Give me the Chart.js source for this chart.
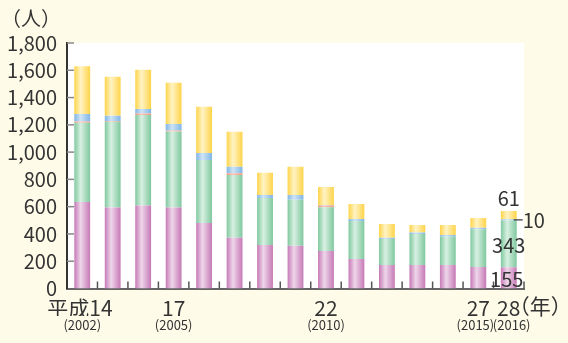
<!DOCTYPE html>
<html>
<head>
<meta charset="utf-8">
<script src="https://cdn.jsdelivr.net/npm/chart.js@4/dist/chart.umd.min.js"></script>
<style>
  html, body { margin: 0; padding: 0; background: #fefbe8; }
  #wrap { width: 568px; height: 343px; }
</style>
</head>
<body>
<div id="wrap"><canvas id="c" width="568" height="343"></canvas></div>
<script>
// Years 2002–2016 (Heisei 14–28)
const categories = ['2002','2003','2004','2005','2006','2007','2008','2009','2010','2011','2012','2013','2014','2015','2016'];
const eraTickLabels = ['平成14 ','','','17','','','','','22','','','','','27','28'];
const yearTickLabels = ['(2002)','','','(2005)','','','','','(2010)','','','','','(2015)  ','  (2016)'];

// Stacked series, bottom to top
const seriesPink   = [635, 593, 608, 593, 481, 373, 319, 314, 275, 216, 172, 172, 172, 158, 155];
const seriesGreen  = [580, 629, 665, 558, 462, 460, 345, 336, 321, 279, 191, 228, 208, 276, 343];
const seriesOrange = [10, 7, 10, 7, 0, 12, 0, 0, 12, 0, 0, 0, 0, 0, 0];
const seriesBlue   = [55, 37, 34, 49, 51, 47, 22, 36, 5, 15, 10, 10, 13, 12, 10];
const seriesYellow = [350, 286, 287, 301, 338, 257, 162, 206, 132, 110, 100, 56, 73, 71, 61];

const TEXT = '#333333';
const FONT = "'Noto Sans CJK JP', 'Noto Sans', sans-serif";

// Cylinder-like horizontal shading for each bar
function shaded(edge, light) {
  return (ctx) => {
    const chart = ctx.chart;
    if (!chart.chartArea || ctx.type !== 'data') return edge;
    const xs = chart.scales.x;
    const cx = xs.getPixelForValue(ctx.dataIndex);
    const w = (chart.chartArea.width / categories.length) * 0.52;
    if (!isFinite(cx)) return edge;
    const g = chart.ctx.createLinearGradient(cx - w / 2, 0, cx + w / 2, 0);
    g.addColorStop(0, edge);
    g.addColorStop(0.4, light);
    g.addColorStop(1, edge);
    return g;
  };
}

const backgroundPlugin = {
  id: 'panels',
  beforeDraw(chart) {
    const { ctx, chartArea: a } = chart;
    ctx.save();
    ctx.fillStyle = '#fefbe8';
    ctx.fillRect(0, 0, chart.width, chart.height);
    ctx.fillStyle = '#ffffff';
    ctx.fillRect(a.left, a.top, a.right - a.left, a.bottom - a.top);
    ctx.restore();
  }
};

// Short inward tick marks on both axes
const innerTicks = {
  id: 'innerTicks',
  afterDatasetsDraw(chart) {
    const { ctx, chartArea: a, scales } = chart;
    ctx.save();
    ctx.lineWidth = 1.5;
    ctx.strokeStyle = '#888888';
    scales.y.ticks.forEach(t => {
      if (t.value === 0) return;
      const y = scales.y.getPixelForValue(t.value);
      ctx.beginPath(); ctx.moveTo(a.left, y); ctx.lineTo(a.left + 7, y); ctx.stroke();
    });
    ctx.strokeStyle = '#555555';
    const n = categories.length;
    for (let i = 1; i <= n; i++) {
      const x = i < n ? (scales.x.getPixelForValue(i - 1) + scales.x.getPixelForValue(i)) / 2 : a.right;
      ctx.beginPath(); ctx.moveTo(x, a.bottom); ctx.lineTo(x, a.bottom - 7); ctx.stroke();
    }
    ctx.restore();
  }
};

// Unit captions and the value labels on the latest bar
const annotations = {
  id: 'annotations',
  afterDraw(chart) {
    const { ctx, scales } = chart;
    const last = categories.length - 1;
    ctx.save();
    ctx.fillStyle = TEXT;
    ctx.strokeStyle = TEXT;
    ctx.font = '20px ' + FONT;
    ctx.textBaseline = 'top';
    ctx.textAlign = 'left';
    ctx.fillText('（人）', 1, 8);
    ctx.font = '21px ' + FONT;
    ctx.fillText('（年）', scales.x.getPixelForValue(last) + 0, 296);

    ctx.font = '20px ' + FONT;
    ctx.textBaseline = 'middle';
    ctx.textAlign = 'center';
    const pinkBar = chart.getDatasetMeta(0).data[last];
    const greenBar = chart.getDatasetMeta(1).data[last];
    const blueBar = chart.getDatasetMeta(3).data[last];
    const yellowBar = chart.getDatasetMeta(4).data[last];
    ctx.fillText(String(seriesPink[last]), pinkBar.x - 2, (pinkBar.y + pinkBar.base) / 2 + 1);
    ctx.fillText(String(seriesGreen[last]), greenBar.x, (greenBar.y + greenBar.base) / 2 + 1);
    ctx.fillText(String(seriesYellow[last]), yellowBar.x, yellowBar.y - 12);
    const by = (blueBar.y + blueBar.base) / 2;
    const bx = blueBar.x + blueBar.width / 2;
    ctx.lineWidth = 1.2;
    ctx.beginPath(); ctx.moveTo(bx - 3, by); ctx.lineTo(bx + 6, by); ctx.stroke();
    ctx.textAlign = 'left';
    ctx.fillText(String(seriesBlue[last]), bx + 6, by + 1);
    ctx.restore();
  }
};

const ds = (data, edge, light) => ({
  data,
  backgroundColor: shaded(edge, light),
  borderWidth: 0,
  barPercentage: 0.52,
  categoryPercentage: 1,
  xAxisID: 'x'
});

new Chart(document.getElementById('c'), {
  type: 'bar',
  data: {
    labels: categories,
    datasets: [
      ds(seriesPink,   '#c679b6', '#eed6ea'),
      ds(seriesGreen,  '#7fc89e', '#d8f0e2'),
      ds(seriesOrange, '#f2967e', '#f9c4b6'),
      ds(seriesBlue,   '#7fb6e6', '#cfe4f6'),
      ds(seriesYellow, '#ffd449', '#fff3c4')
    ]
  },
  options: {
    responsive: false,
    animation: false,
    devicePixelRatio: 1,
    layout: { padding: { top: 43, right: 44, bottom: 9, left: 0 } },
    plugins: { legend: { display: false }, tooltip: { enabled: false } },
    scales: {
      x: {
        stacked: true,
        offset: true,
        grid: { display: false, drawTicks: false },
        border: { display: true, color: '#666666', width: 2 },
        afterFit: (s) => { s.height = 27.5; },
        ticks: {
          autoSkip: false, maxRotation: 0, padding: 7,
          color: TEXT, font: { family: FONT, size: 21 },
          callback: (v, i) => eraTickLabels[i]
        }
      },
      x2: {
        type: 'category',
        labels: yearTickLabels,
        position: 'bottom',
        offset: true,
        grid: { display: false, drawTicks: false },
        border: { display: false },
        afterFit: (s) => { s.height = 18; },
        ticks: {
          autoSkip: false, maxRotation: 0, padding: 1,
          color: TEXT, font: { family: FONT, size: 13 }
        }
      },
      y: {
        stacked: true,
        min: 0, max: 1800,
        grid: { display: false, drawTicks: false },
        border: { display: true, color: '#333333', width: 2 },
        afterFit: (s) => { s.width = 67; },
        ticks: {
          stepSize: 200, padding: 10,
          color: TEXT, font: { family: FONT, size: 20 },
          callback: (v) => v.toLocaleString('en-US')
        }
      }
    }
  },
  plugins: [backgroundPlugin, innerTicks, annotations]
});
</script>
</body>
</html>
